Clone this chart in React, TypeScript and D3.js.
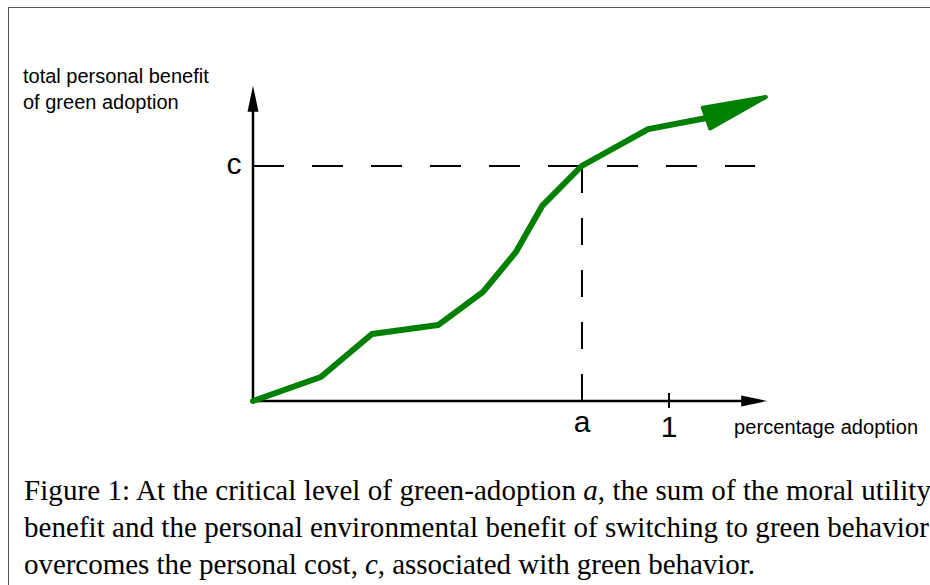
import * as d3 from "d3";

// curve points: [adoption share, benefit relative to cost c]
const curveX = [0, 0.163, 0.286, 0.445, 0.553, 0.632, 0.695, 0.79, 0.95, 1.09];
const curveY = [0, 0.102, 0.285, 0.323, 0.464, 0.634, 0.83, 1.0, 1.157, 1.204];
const curveTip = [1.233, 1.294];

const critA = 0.79;
const costC = 1.0;
const xAxisEnd = 1.236;
const yAxisEnd = 1.342;
const dashEnd = 1.207;

const yLabelLines = ["total personal benefit", "of green adoption"];
const xLabel = "percentage adoption";
const tickLabels = ["a", "1", "c"];

const captionLines = [
  ["Figure 1: At the critical level of green-adoption ", "a", ", the sum of the moral utility"],
  ["benefit and the personal environmental benefit of switching to green behavior", "", ""],
  ["overcomes the personal cost, ", "c", ", associated with green behavior."],
];
// justified lines stretch to the page edge, last line is natural width
const captionWidths = [907, 905, 731];

const green = "#008000";

function App() {
  const width = 930;
  const height = 585;
  const x = d3.scaleLinear().domain([0, 1]).range([253, 669]);
  const y = d3.scaleLinear().domain([0, 1]).range([401, 166]);

  const pts: [number, number][] = curveX.map((v, i) => [x(v), y(curveY[i])]);
  const line = d3.line<[number, number]>().x((d) => d[0]).y((d) => d[1]);

  // green arrowhead
  const base = pts[pts.length - 1];
  const tip: [number, number] = [x(curveTip[0]), y(curveTip[1])];
  const dx = tip[0] - base[0];
  const dy = tip[1] - base[1];
  const len = Math.sqrt(dx * dx + dy * dy);
  const nx = -dy / len;
  const ny = dx / len;
  const hw = 11;
  const head = [
    tip,
    [base[0] + nx * hw, base[1] + ny * hw],
    [base[0] - nx * hw, base[1] - ny * hw],
  ] as [number, number][];

  const x0 = x(0);
  const y0 = y(0);
  const xe = x(xAxisEnd);
  const ye = y(yAxisEnd);
  const xa = Math.round(x(critA));

  return (
    <svg
      width={width}
      height={height}
      style={{ position: "absolute", left: 0, top: 0, background: "#fff" }}
    >
      {/* page frame */}
      <line x1={8} y1={7.5} x2={930} y2={7.5} stroke="#555" strokeWidth={1} />
      <line x1={8.5} y1={7} x2={8.5} y2={585} stroke="#555" strokeWidth={1} />

      {/* axes */}
      <line x1={x0} y1={y0} x2={xe - 20} y2={y0} stroke="#000" strokeWidth={2.5} />
      <line x1={x0} y1={y0} x2={x0} y2={ye + 20} stroke="#000" strokeWidth={2.5} />
      <path
        d={`M${xe},${y0} L${xe - 26},${y0 - 5.5} L${xe - 26},${y0 + 5.5} Z`}
        fill="#000"
      />
      <path
        d={`M${x0},${ye} L${x0 - 5.5},${ye + 26} L${x0 + 5.5},${ye + 26} Z`}
        fill="#000"
      />

      {/* tick at 1 */}
      <line x1={x(1)} y1={y0 - 8} x2={x(1)} y2={y0 + 7} stroke="#000" strokeWidth={2} />

      {/* dashed guides */}
      <line
        x1={x0}
        y1={y(costC)}
        x2={x(dashEnd)}
        y2={y(costC)}
        stroke="#000"
        strokeWidth={2}
        strokeDasharray="31,28"
      />
      <line
        x1={xa}
        y1={y(costC)}
        x2={xa}
        y2={y0}
        stroke="#000"
        strokeWidth={2}
        strokeDasharray="27,25"
      />

      {/* curve */}
      <path
        d={line(pts) as string}
        fill="none"
        stroke={green}
        strokeWidth={6}
        strokeLinejoin="round"
        strokeLinecap="round"
      />
      <path
        d={line(head) + "Z"}
        fill={green}
        stroke={green}
        strokeWidth={4}
        strokeLinejoin="round"
      />

      {/* labels */}
      <g fontFamily="Liberation Sans, Arial, sans-serif" fill="#000">
        <text x={xa} y={432} fontSize={30} textAnchor="middle">
          {tickLabels[0]}
        </text>
        <text x={x(1)} y={437} fontSize={30} textAnchor="middle">
          {tickLabels[1]}
        </text>
        <text x={234} y={y(costC) + 8} fontSize={30} textAnchor="middle">
          {tickLabels[2]}
        </text>
        <text x={734} y={434} fontSize={20} textLength={184}>
          {xLabel}
        </text>
        {yLabelLines.map((t, i) => (
          <text key={t} x={23} y={83 + i * 26} fontSize={20}>
            {t}
          </text>
        ))}
      </g>

      {/* caption */}
      <g fontFamily="Liberation Serif, Times New Roman, serif" fontSize={29} fill="#000">
        {captionLines.map((parts, i) => (
          <text
            key={i}
            x={24}
            y={500 + i * 37}
            textLength={captionWidths[i]}
            lengthAdjust="spacing"
          >
            {parts[0]}
            <tspan fontStyle="italic">{parts[1]}</tspan>
            {parts[2]}
          </text>
        ))}
      </g>
    </svg>
  );
}

export default App;
